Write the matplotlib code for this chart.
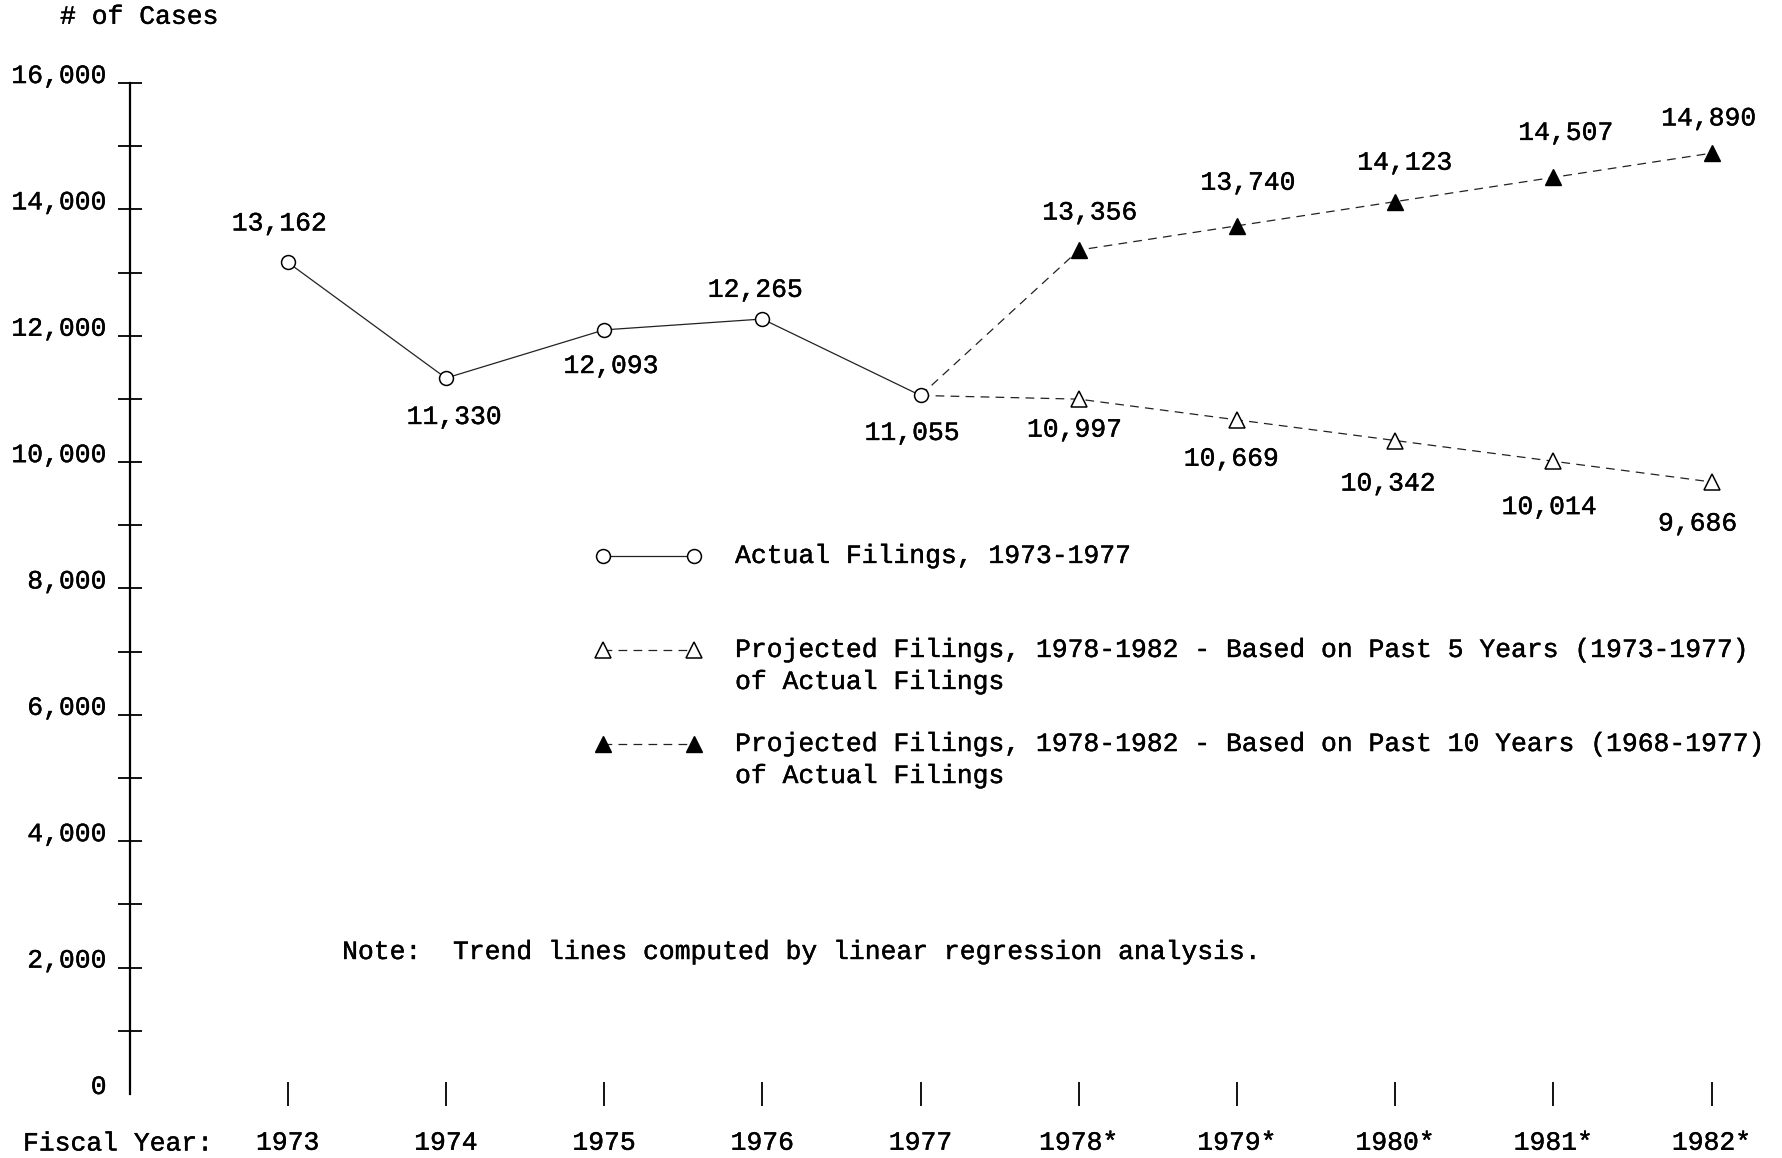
import matplotlib
matplotlib.use('Agg')
from matplotlib import pyplot as plt
from matplotlib import patheffects
from matplotlib.lines import Line2D
from matplotlib.text import Text

plt.rcParams['font.family'] = ['Liberation Mono', 'DejaVu Sans Mono']
plt.rcParams['font.size'] = 19

# data
years_actual = [1973, 1974, 1975, 1976, 1977]
filings_actual = [13162, 11330, 12093, 12265, 11055]
years_proj = [1978, 1979, 1980, 1981, 1982]
proj_5yr = [10997, 10669, 10342, 10014, 9686]
proj_10yr = [13356, 13740, 14123, 14507, 14890]

year_ticks = years_actual + years_proj
year_labels = ['1973', '1974', '1975', '1976', '1977',
               '1978*', '1979*', '1980*', '1981*', '1982*']
case_ticks = list(range(0, 16001, 2000))
case_labels = ['0', '2,000', '4,000', '6,000', '8,000',
               '10,000', '12,000', '14,000', '16,000']

legend_labels = [
    ['Actual Filings, 1973-1977'],
    ['Projected Filings, 1978-1982 - Based on Past 5 Years (1973-1977)',
     'of Actual Filings'],
    ['Projected Filings, 1978-1982 - Based on Past 10 Years (1968-1977)',
     'of Actual Filings'],
]

# label offsets in points (style only)
off_actual = [(-6, 28), (6, -28), (5, -26), (-5, 21), (-6, -27)]
off_5yr = [(-3, -22), (-4, -28), (-5, -31), (-3, -33), (-10, -30)]
off_10yr = [(8, 27), (8, 31), (7, 28), (9, 32), (-2, 25)]

fig = plt.figure(figsize=(17.82, 11.58), dpi=100)
ax = fig.add_axes([0.0727, 0.0553, 0.9233, 0.8730])
ax.set_xlim(1972, 1982.4)
ax.set_ylim(0, 16000)

line_kw = dict(color='#222222', lw=0.9)
dash = (0, (7, 5))

# projections start from the last actual point
ax.plot([years_actual[-1]] + years_proj, [filings_actual[-1]] + proj_5yr,
        ls=dash, marker='^', ms=11, mfc='white', mec='black', mew=1.1,
        markevery=slice(1, None), **line_kw)
ax.plot([years_actual[-1]] + years_proj, [filings_actual[-1]] + proj_10yr,
        ls=dash, marker='^', ms=12, mfc='black', mec='black',
        markevery=slice(1, None), **line_kw)
ax.plot(years_actual, filings_actual, ls='-', marker='o', ms=10,
        mfc='white', mec='black', mew=1.1, zorder=3, **line_kw)

for xs, ys, offs in [(years_actual, filings_actual, off_actual),
                     (years_proj, proj_5yr, off_5yr),
                     (years_proj, proj_10yr, off_10yr)]:
    for x, y, o in zip(xs, ys, offs):
        ax.annotate(f'{y:,}', (x, y), xytext=o, textcoords='offset points',
                    ha='center', va='center')

# axes styling
for s in ['top', 'right', 'bottom']:
    ax.spines[s].set_visible(False)
ax.spines['left'].set_linewidth(1.6)

ax.set_yticks(case_ticks)
ax.set_yticklabels(case_labels, va='baseline')
ax.set_yticks(range(1000, 16000, 2000), minor=True)
ax.tick_params(axis='y', which='both', direction='inout', length=17,
               width=1.3, pad=8)
ax.yaxis.get_major_ticks()[0].tick1line.set_visible(False)

ax.set_xticks(year_ticks)
ax.set_xticklabels(year_labels)
ax.tick_params(axis='x', direction='inout', length=17, width=1.3, pad=18)

fig.text(0.0337, 0.9855, '# of Cases', ha='left', va='center')
fig.text(0.0129, 0.0125, 'Fiscal Year:', ha='left', va='center')

# legend drawn by hand so the handle sits on the first text line
leg_rows = [0.5199, 0.4387, 0.3575]
line_step = 32 / 1158
leg_styles = [
    dict(ls='-', marker='o', ms=10, mfc='white', mec='black', mew=1.1),
    dict(ls=dash, marker='^', ms=11, mfc='white', mec='black', mew=1.1),
    dict(ls=dash, marker='^', ms=12, mfc='black', mec='black'),
]
for y, lines, st in zip(leg_rows, legend_labels, leg_styles):
    fig.add_artist(Line2D([0.3384, 0.3894], [y, y], transform=fig.transFigure,
                          color='#222222', lw=0.9, **st))
    for k, txt in enumerate(lines):
        fig.text(0.4125, y - k * line_step, txt, ha='left', va='center')

fig.text(0.192, 1 - 952 / 1158,
         'Note:  Trend lines computed by linear regression analysis.',
         ha='left', va='center')

# typewriter ink is a little heavier than Liberation Mono
for t in fig.findobj(Text):
    t.set_path_effects([patheffects.withStroke(linewidth=0.3,
                                               foreground='black')])

fig.savefig('out.png', dpi=100)
